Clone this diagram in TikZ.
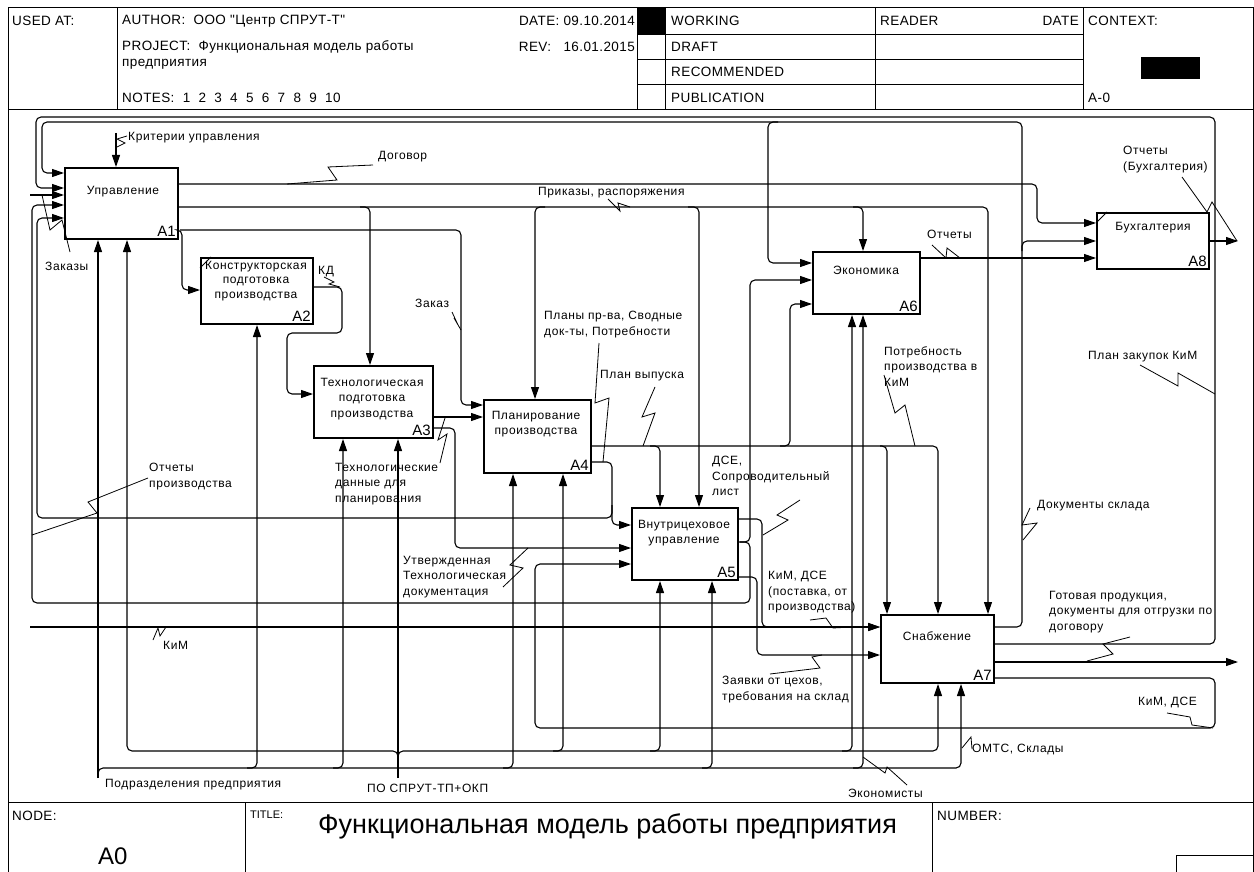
\documentclass[tikz,border=0pt]{standalone}
\usepackage{fontspec}
\setmainfont{Liberation Sans}
\newfontfamily\lblfont[LetterSpace=5]{Liberation Sans}
\newfontfamily\hdfont[LetterSpace=3]{Liberation Sans}
\usetikzlibrary{arrows.meta}
\begin{document}
\begin{tikzpicture}[x=1pt,y=-1pt,
 box/.style={draw,line width=2pt,inner sep=0pt,anchor=north west},
 ln/.style={line width=1.1pt,rounded corners=5pt},
 arr/.style={ln,-{Triangle[length=12pt,width=8pt]}},
 sq/.style={line width=0.8pt},
 frm/.style={line width=1pt},
 lbl/.style={font=\lblfont\fontsize{12}{15.5}\selectfont,inner sep=0pt,anchor=north west,align=left},
 btxt/.style={font=\lblfont\fontsize{12}{15.5}\selectfont,inner sep=0pt,anchor=north,align=center},
 bnum/.style={font=\fontsize{15}{15}\selectfont,inner sep=0pt,anchor=south east,xshift=-3pt,yshift=3pt},
 hd/.style={font=\hdfont\fontsize{13.5}{15}\selectfont,inner sep=0pt,anchor=west}
]
\fill[white] (0,0) rectangle (1254,872);
\useasboundingbox (0,0) rectangle (1254,872);
% ---------- frame ----------
\draw[frm] (8,8) rectangle (1253,872);
\draw[frm] (8,110) -- (1253,110);
\draw[frm] (8,802) -- (1253,802);
\foreach \x in {117,637,665,875,1083} \draw[frm] (\x,8) -- (\x,110);
\foreach \y in {35,60,85} \draw[frm] (637,\y) -- (1083,\y);
\fill (637,8) rectangle (665,35);
\fill (1141,57) rectangle (1200,79);
\draw[frm] (245,802) -- (245,872);
\draw[frm] (932,802) -- (932,872);
\draw[frm] (1176,872) -- (1176,855) -- (1253,855);
% header text
\node[hd] (h1) at (12,21) {USED AT:};
\node[hd] (h2) at (122,21) {AUTHOR:\ \ ООО "Центр СПРУТ-Т"};
\node[hd,anchor=east] (h3) at (635,21) {DATE: 09.10.2014};
\node[hd] (h4) at (122,47) {PROJECT:\ \ Функциональная модель работы};
\node[hd] (h5) at (122,64) {предприятия};
\node[hd,anchor=east] (h6) at (635,47) {REV:\ \ \ 16.01.2015};
\node[hd] (h7) at (122,98) {NOTES:\ \ 1\ \ 2\ \ 3\ \ 4\ \ 5\ \ 6\ \ 7\ \ 8\ \ 9\ \ 10};
\node[hd] (h8) at (671,21) {WORKING};
\node[hd] (h9) at (671,47) {DRAFT};
\node[hd] (h10) at (671,72) {RECOMMENDED};
\node[hd] (h11) at (671,98) {PUBLICATION};
\node[hd] (h12) at (880,21) {READER};
\node[hd,anchor=east] (h13) at (1079,21) {DATE};
\node[hd] (h14) at (1088,21) {CONTEXT:};
\node[hd] (h15) at (1088,98) {A-0};
\node[hd] (f1) at (12,816) {NODE:};
\node[hd,font=\fontsize{11}{12}\selectfont] (f2) at (250,815) {TITLE:};
\node[hd] (f3) at (937,816) {NUMBER:};
\node[hd,font=\fontsize{24}{26}\selectfont] (f4) at (98,856) {A0};
\node[hd,font=\fontsize{27}{29}\selectfont] (f5) at (318,826) {Функциональная модель работы предприятия};
% ---------- boxes ----------
\node[box,minimum width=113pt,minimum height=71pt] (A1) at (64,167) {};
\node[box,minimum width=112pt,minimum height=66pt] (A2) at (200,257) {};
\node[box,minimum width=119pt,minimum height=72pt] (A3) at (313,365) {};
\node[box,minimum width=107pt,minimum height=73pt] (A4) at (483,399) {};
\node[box,minimum width=106pt,minimum height=72pt] (A5) at (631,507) {};
\node[box,minimum width=107pt,minimum height=62pt] (A6) at (812,251) {};
\node[box,minimum width=113pt,minimum height=68pt] (A7) at (880,614) {};
\node[box,minimum width=112pt,minimum height=56pt] (A8) at (1096,212) {};
\draw[line width=1pt] (200,268) -- (211,257);
\draw[line width=1pt] (1096,223) -- (1107,212);
\node[btxt] (t1) at (123,186) {Управление};
\node[btxt] (t2) at (256,261) {Конструкторская\\[-1pt]подготовка\\[-1pt]производства};
\node[btxt] (t3) at (372,378) {Технологическая\\подготовка\\производства};
\node[btxt] (t4) at (536,411) {Планирование\\производства};
\node[btxt] (t5) at (684,520) {Внутрицеховое\\управление};
\node[btxt] (t6) at (866,266) {Экономика};
\node[btxt] (t8) at (1153,222) {Бухгалтерия};
\node[btxt] (t7) at (937,631) {Снабжение};
\foreach \b in {1,...,8} \node[bnum] (n\b) at (A\b.south east) {A\b};
% ---------- free ends ----------
\coordinate (inZ) at (30,195);
\coordinate (inK) at (30,627);
\coordinate (outB) at (1238,241);
\coordinate (outG) at (1238,662);
\coordinate (kr) at (116,133);
\coordinate (mP) at (98,778);
\coordinate (mS) at (398,778);
% ---------- connectors ----------
\draw[arr] (kr) -- (kr|-A1.north);
\draw[arr] (A1.east|-0,184) -- (1037,184) -- (1037,223) -- (A8.west|-0,223);
\draw[arr] (A1.east|-0,207) -- (988,207) -- (A7.north-|988,0);
\draw[arr] (360,207) -- (370,207) -- (A3.north-|370,0);
\draw[arr] (545,207) -- (535,207) -- (A4.north-|535,0);
\draw[arr] (688,207) -- (699,207) -- (A5.north-|699,0);
\draw[arr] (853,207) -- (863,207) -- (A6.north-|863,0);
\draw[arr] (A1.east|-0,230) -- (182,230) -- (182,290) -- (A2.west|-0,290);
\draw[arr] (180,230) -- (461,230) -- (461,405) -- (A4.west|-0,405);
\draw[arr] (A2.east|-0,287) -- (342,287) -- (342,333) -- (287,333) -- (287,394) -- (A3.west|-0,394);
\draw[arr] (A3.east|-0,417) -- (A4.west|-0,417);
\draw[arr] (A3.east|-0,428) -- (455,428) -- (455,548) -- (A5.west|-0,548);
\draw[arr] (A4.east|-0,446) -- (887,446) -- (A7.north-|887,0);
\draw[arr] (650,446) -- (660,446) -- (A5.north-|660,0);
\draw[arr] (780,446) -- (790,446) -- (790,304) -- (A6.west|-0,304);
\draw[arr] (880,446) -- (938,446) -- (A7.north-|938,0);
\draw[arr] (A4.east|-0,462) -- (612,462) -- (612,525) -- (A5.west|-0,525);
\draw[arr] (612,505) -- (612,518) -- (37,518) -- (37,218) -- (A1.west|-0,218);
\draw[arr] (A5.east|-0,519) -- (762,519) -- (762,627) -- (A7.west|-0,627);
\draw[arr] (A5.east|-0,542) -- (750,542) -- (750,280) -- (A6.west|-0,280);
\draw[arr] (740,542) -- (750,542) -- (750,603) -- (32,603) -- (32,205) -- (A1.west|-0,205);
\draw[arr] (A5.east|-0,577) -- (757,577) -- (757,655) -- (A7.west|-0,655);
\draw[arr] (A6.east|-0,258) -- (A8.west|-0,258);
\draw[arr] (A8.east|-0,241) -- (outB);
\draw[arr] (A7.east|-0,627) -- (1022,627) -- (1022,122) -- (42,122) -- (42,173) -- (A1.west|-0,173);
\draw[arr] (1022,251) -- (1022,241) -- (A8.west|-0,241);
\draw[arr] (778,122) -- (768,122) -- (768,263) -- (A6.west|-0,263);
\draw[arr] (A7.east|-0,644) -- (1215,644) -- (1215,117) -- (36,117) -- (36,188) -- (A1.west|-0,188);
\draw[arr] (A7.east|-0,662) -- (outG);
\draw[arr] (A7.east|-0,678) -- (1215,678) -- (1215,728) -- (535,728) -- (535,564) -- (A5.west|-0,564);
\draw[arr] (inZ) -- (A1.west|-inZ);
\draw[arr] (inK) -- (A7.west|-inK);
% mechanisms
\draw[arr] (mP) -- (A1.south-|mP);
\draw[arr] (98,775) -- (98,768) -- (961,768) -- (A7.south-|961,0);
\draw[arr] (247,768) -- (257,768) -- (A2.south-|257,0);
\draw[arr] (333,768) -- (343,768) -- (A3.south-|343,0);
\draw[arr] (503,768) -- (513,768) -- (A4.south-|513,0);
\draw[arr] (702,768) -- (712,768) -- (A5.south-|712,0);
\draw[arr] (853,768) -- (863,768) -- (A6.south-|863,0);
\draw[arr] (mS) -- (A3.south-|mS);
\draw[arr] (398,770) -- (398,751) -- (127,751) -- (A1.south-|127,0);
\draw[arr] (398,770) -- (398,751) -- (938,751) -- (A7.south-|938,0);
\draw[arr] (553,751) -- (563,751) -- (A4.south-|563,0);
\draw[arr] (650,751) -- (660,751) -- (A5.south-|660,0);
\draw[arr] (842,751) -- (852,751) -- (A6.south-|852,0);
% ---------- squiggles ----------
\draw[sq] (127,136) -- (117,139) -- (125,143) -- (117,147);
\draw[sq] (373,165) -- (328,167) -- (337,180) -- (287,184);
\draw[sq] (608,199) -- (620,211) -- (618,203) -- (630,207);
\draw[sq] (932,245) -- (946,258) -- (947,248) -- (960,258);
\draw[sq] (1182,177) -- (1207,212) -- (1212,202) -- (1237,241);
\draw[sq] (70,252) -- (62,220) -- (50,230) -- (42,195);
\draw[sq] (324,277) -- (334,282) -- (329,284) -- (340,287);
\draw[sq] (452,312) -- (458,325) -- (454,318) -- (461,330);
\draw[sq] (599,343) -- (595,403) -- (609,398) -- (603,462);
\draw[sq] (655,387) -- (642,417) -- (655,413) -- (643,446);
\draw[sq] (440,463) -- (447,434) -- (438,440) -- (445,418);
\draw[sq] (148,478) -- (88,502) -- (97,513) -- (32,535);
\draw[sq] (528,548) -- (510,565) -- (523,568) -- (503,587);
\draw[sq] (800,500) -- (777,515) -- (788,520) -- (763,535);
\draw[sq] (884,375) -- (895,413) -- (905,405) -- (915,446);
\draw[sq] (1140,365) -- (1178,386) -- (1178,373) -- (1215,394);
\draw[sq] (1030,508) -- (1022,525) -- (1037,523) -- (1023,540);
\draw[sq] (1130,637) -- (1103,644) -- (1113,654) -- (1087,661);
\draw[sq] (810,620) -- (826,618) -- (833,628) -- (852,627);
\draw[sq] (770,674) -- (820,668) -- (812,657) -- (822,655);
\draw[sq] (1167,713) -- (1190,717) -- (1192,725) -- (1213,728);
\draw[sq] (153,640) -- (158,628) -- (160,636) -- (166,627);
\draw[sq] (962,748) -- (971,737) -- (972,749);
\draw[sq] (863,757) -- (885,773) -- (887,767) -- (907,785);
% ---------- labels ----------
\node[lbl] (L1) at (128,132) {Критерии управления};
\node[lbl] (L2) at (378,151) {Договор};
\node[lbl] (L3) at (538,187) {Приказы, распоряжения};
\node[lbl] (L4) at (927,230) {Отчеты};
\node[lbl] (L5) at (1123,146) {Отчеты\\(Бухгалтерия)};
\node[lbl] (L6) at (45,262) {Заказы};
\node[lbl] (L7) at (318,266) {КД};
\node[lbl] (L8) at (415,299) {Заказ};
\node[lbl] (L9) at (544,311) {Планы пр-ва, Сводные\\док-ты, Потребности};
\node[lbl] (L10) at (600,370) {План выпуска};
\node[lbl] (L11) at (335,463) {Технологические\\данные для\\планирования};
\node[lbl] (L12) at (149,463) {Отчеты\\производства};
\node[lbl] (L13) at (403,556) {Утвержденная\\Технологическая\\документация};
\node[lbl] (L14) at (712,456) {ДСЕ,\\Сопроводительный\\лист};
\node[lbl] (L15) at (884,346) {Потребность\\производства в\\КиМ};
\node[lbl] (L16) at (1088,351) {План закупок КиМ};
\node[lbl] (L17) at (1037,500) {Документы склада};
\node[lbl] (L18) at (1049,591) {Готовая продукция,\\документы для отгрузки по\\договору};
\node[lbl] (L19) at (768,571) {КиМ, ДСЕ\\(поставка, от\\производства)};
\node[lbl] (L20) at (722,676) {Заявки от цехов,\\требования на склад};
\node[lbl] (L21) at (1138,697) {КиМ, ДСЕ};
\node[lbl] (L22) at (163,641) {КиМ};
\node[lbl] (L23) at (972,744) {ОМТС, Склады};
\node[lbl] (L24) at (848,789) {Экономисты};
\node[lbl] (L25) at (105,779) {Подразделения предприятия};
\node[lbl] (L26) at (367,784) {ПО СПРУТ-ТП+ОКП};
\end{tikzpicture}
\end{document}
